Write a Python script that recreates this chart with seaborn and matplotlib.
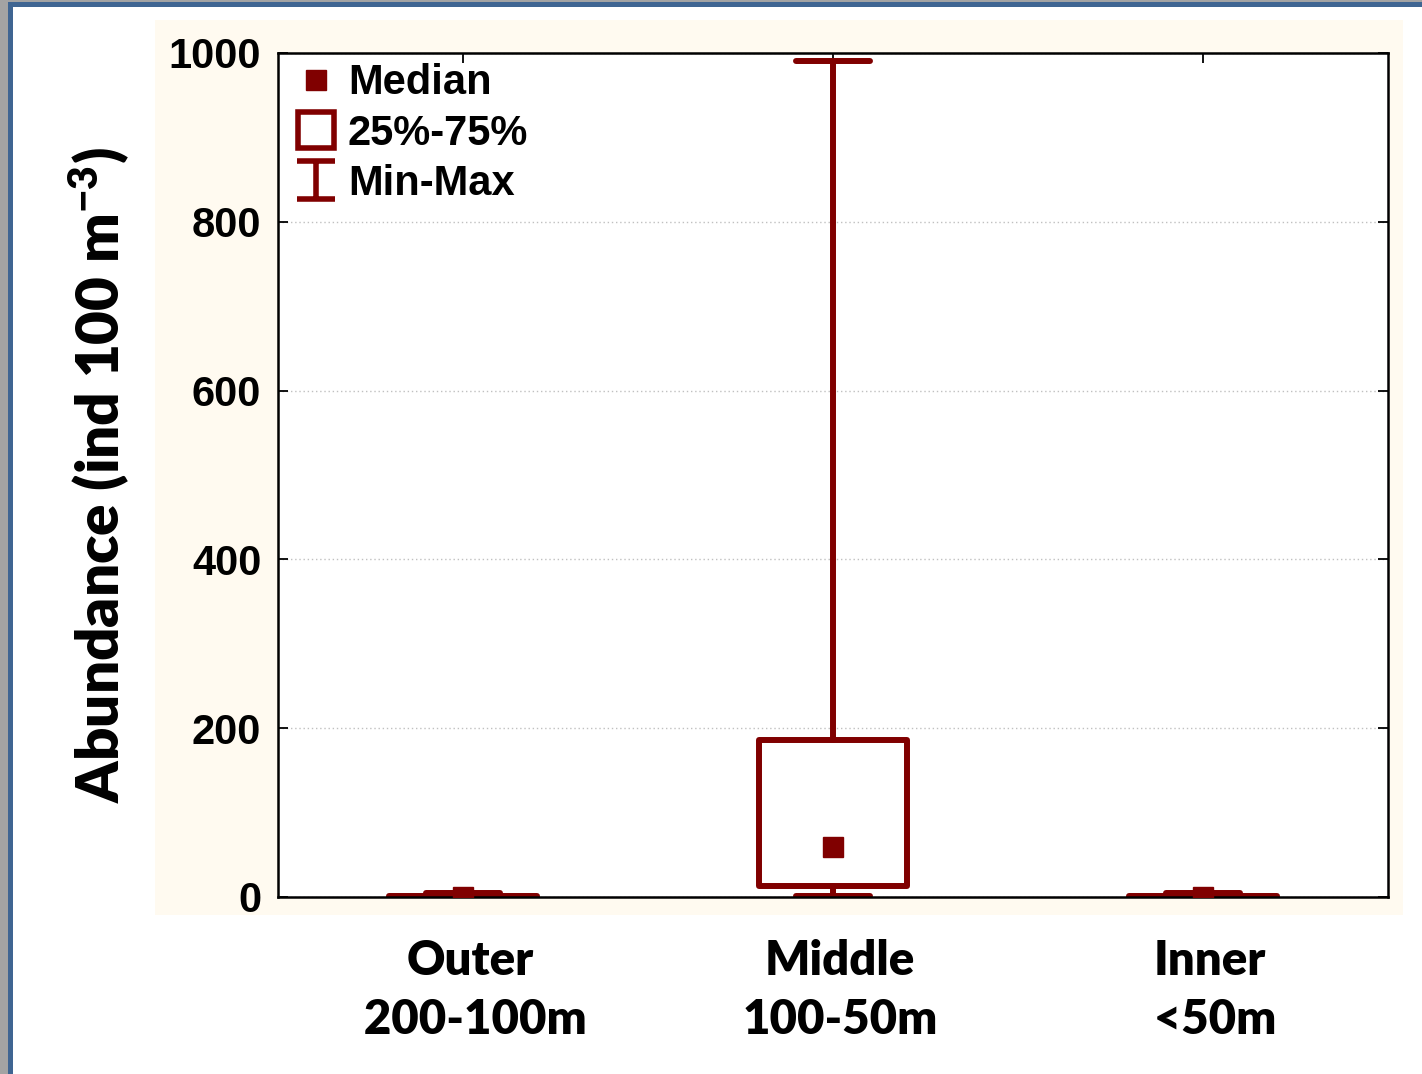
import numpy as np
import pandas as pd
import matplotlib
matplotlib.use("Agg")
import matplotlib.pyplot as plt
from matplotlib.lines import Line2D
from matplotlib.patches import Rectangle
from matplotlib.path import Path
import matplotlib.transforms as mtransforms
import seaborn as sns

# ---- data (five-number summaries) ----
zones = ["Outer", "Middle", "Inner"]
zone_labels = ["Outer\n 200-100m", "Middle\n100-50m", "Inner\n <50m"]
min_vals = [0, 1, 0]
q1_vals = [0.5, 13, 0.5]
median_vals = [0.5, 59, 0.5]
q3_vals = [1.5, 186, 1.5]
max_vals = [5, 990, 5]
y_ticks = [0, 200, 400, 600, 800, 1000]

rows = []
for z, a, b, c, d, e in zip(zones, min_vals, q1_vals, median_vals, q3_vals, max_vals):
    for v in (a, b, c, d, e):
        rows.append({"zone": z, "value": v})
df = pd.DataFrame(rows)

DARK = "#800000"
plt.rcParams["mathtext.fontset"] = "custom"
plt.rcParams["mathtext.rm"] = "Lato:heavy"
plt.rcParams["mathtext.bf"] = "Lato:heavy"
plt.rcParams["mathtext.default"] = "bf"

fig = plt.figure(figsize=(14.22, 10.74), dpi=100)
fig.patch.set_facecolor("white")
W, H = 1422, 1074
def fr(x0, y0, x1, y1, color, z=0):
    fig.add_artist(Rectangle((x0 / W, 1 - y1 / H), (x1 - x0) / W, (y1 - y0) / H,
                             transform=fig.transFigure, facecolor=color,
                             edgecolor="none", zorder=z))
fr(0, 0, 8, H, "#a3a3a3")
fr(0, 0, W, 2, "#a3a3a3")
fr(8, 2, 13, H, "#3f6592")
fr(8, 2, W, 7, "#3f6592")
fr(155, 20, 1403, 915, "#fffaf0")

ax = fig.add_axes([278 / W, 1 - 897 / H, 1110 / W, 844 / H])
ax.set_facecolor("white")
ax.set_axisbelow(True)

sns.boxplot(data=df, x="zone", y="value", order=zones, ax=ax,
            whis=(0, 100), width=0.4, color="white", linecolor=DARK,
            linewidth=4.3, showfliers=False,
            boxprops={"joinstyle": "round", "zorder": 2},
            whiskerprops={"solid_capstyle": "round", "zorder": 2},
            capprops={"solid_capstyle": "round", "zorder": 2},
            medianprops={"visible": False})
sns.pointplot(data=df, x="zone", y="value", order=zones, ax=ax,
              estimator="median", errorbar=None, color=DARK,
              marker="s", linestyle="none", markersize=15,
              markeredgewidth=1, zorder=3)

ax.set_xlim(-0.5, 2.5)
ax.set_ylim(0, 1000)
ax.set_yticks(y_ticks)
ax.set_yticklabels([str(t) for t in y_ticks], fontsize=30,
                   fontfamily="Liberation Sans", fontweight="bold")
ax.set_xticks(range(len(zones)))
ax.set_xticklabels([])
xtrans = mtransforms.blended_transform_factory(ax.transData, ax.transAxes)
offset = mtransforms.ScaledTranslation(7 / 100, -42 / 100, fig.dpi_scale_trans)
for i, lab in enumerate(zone_labels):
    ax.text(i, 0, lab, transform=xtrans + offset, ha="center", va="top",
            fontsize=34, fontfamily="Lato", fontweight="heavy",
            linespacing=1.42, multialignment="center")

ax.yaxis.grid(True, linestyle=(0, (1, 2)), color="#c0c0c0", linewidth=1)
ax.xaxis.grid(False)
for s in ax.spines.values():
    s.set_visible(True)
    s.set_color("black")
    s.set_linewidth(1.8)
ax.tick_params(axis="both", direction="in", length=7, width=1.3,
               top=True, right=True, color="black")
ax.tick_params(axis="y", pad=12)

ax.set_xlabel("")
ax.set_ylabel("Abundance (ind 100 m$^{-3}$)", fontsize=42,
              fontfamily="Lato", fontweight="heavy")
ax.yaxis.set_label_coords((132 - 278) / 1110, 0.5)

# legend
ibar = Path([(-1, 1), (1, 1), (0, 1), (0, -1), (-1, -1), (1, -1)],
            [Path.MOVETO, Path.LINETO, Path.MOVETO, Path.LINETO, Path.MOVETO, Path.LINETO])
handles = [
    Line2D([], [], linestyle="none", marker="s", markersize=15,
           color=DARK, markeredgewidth=1),
    Line2D([], [], linestyle="none", marker="s", markersize=26,
           markerfacecolor="white", markeredgecolor=DARK, markeredgewidth=4),
    Line2D([], [], linestyle="none", marker=ibar, markersize=28,
           markeredgecolor=DARK, markeredgewidth=4, solid_capstyle="round"),
]
leg = ax.legend(handles, ["Median", "25%-75%", "Min-Max"], loc="upper left",
                bbox_to_anchor=(0.0153, 0.988), frameon=False, handlelength=1.0,
                handletextpad=0.27, labelspacing=0.25, borderaxespad=0,
                borderpad=0,
                prop={"family": "Liberation Sans", "weight": "bold", "size": 30})

fig.savefig("out.png", dpi=100, facecolor=fig.get_facecolor())
